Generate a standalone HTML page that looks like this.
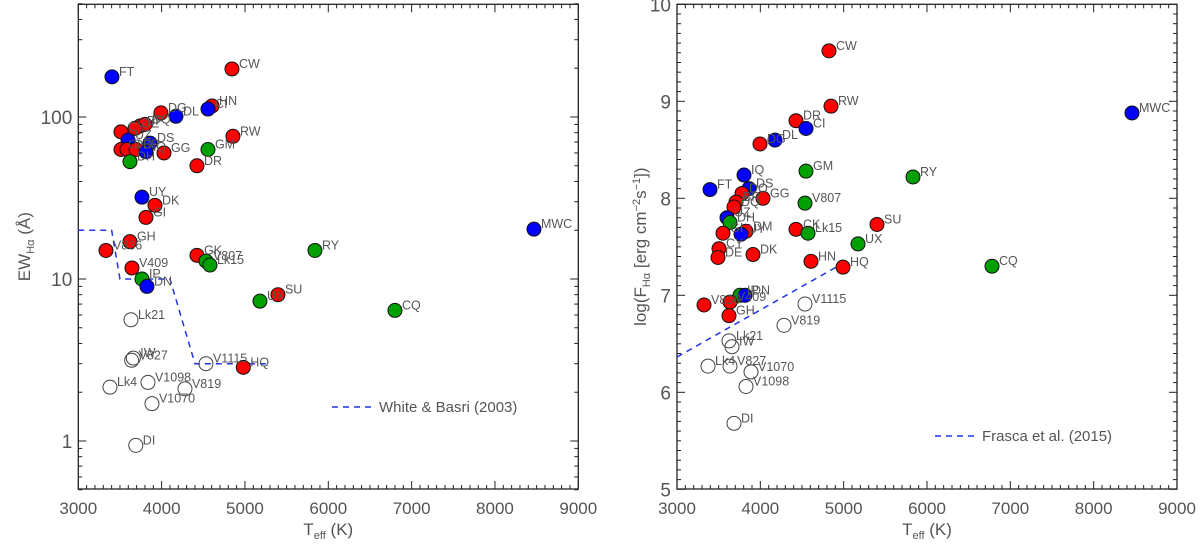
<!DOCTYPE html>
<html><head><meta charset="utf-8"><style>
html,body{margin:0;padding:0;background:#fff;}
svg{display:block;font-family:"Liberation Sans",sans-serif;}
</style></head><body>
<svg id="fig" width="1200" height="548" viewBox="0 0 1200 548"></svg>
<script>
// ---- data: left panel (EW Halpha)
const leftNames=["FT","CW","HN","CI","DG","DL","RW","GM","DR","GG","DS","CY","BP","DQ","DE","UZ","CI","DO","BP","IQ","DH","UY","DK","GI","GH","V836","V409","IP","DN","GK","V807","Lk15","RY","UX","SU","CQ","MWC","HQ","Lk21","IW","V827","V1115","Lk4","V1098","V819","V1070","DI"];
const leftType=["b","r","r","b","r","b","r","g","r","r","b","r","r","r","r","b","r","r","r","b","g","b","r","r","r","r","r","g","b","r","g","g","g","g","r","g","b","r","o","o","o","o","o","o","o","o","o"];
const leftTeff=[3404,4844,4605,4556,3992,4172,4856,4556,4424,4028,3860,3512,3740,3800,3680,3596,3512,3584,3692,3812,3620,3764,3920,3812,3620,3332,3644,3764,3824,4424,4532,4580,5840,5180,5396,6800,8468,4980,3632,3660,3640,4532,3380,3836,4280,3884,3690];
const leftEW=[177,198,117,112,106,101,76,63,50,60,69,81,88,90,85,72,63,63,63,61,53,32,28.5,24,17,15,11.7,10,9,14,12.9,12.2,15,7.3,8,6.4,20.3,2.85,5.6,3.25,3.15,3.0,2.15,2.3,2.1,1.7,0.94];
const wbTeff=[3000,3400,3500,4100,4400,5250];
const wbEW=[20,20,10,10,3,3];
// ---- data: right panel (log F Halpha)
const rightNames=["CW","RW","MWC","DR","CI","DL","DG","GM","RY","IQ","FT","DS","DO","GG","V807","BP","DQ","UZ","DH","GI","DM","UY","CK","Lk15","SU","UX","CY","DE","DK","HN","HQ","CQ","IP","DN","V836","V409","GH","V1115","V819","Lk21","IW","Lk4","V827","V1070","V1098","DI"];
const rightType=["r","r","b","r","b","b","r","g","g","b","b","b","r","r","g","r","r","b","g","r","r","b","r","g","r","g","r","r","r","r","r","g","g","b","r","r","r","o","o","o","o","o","o","o","o","o"];
const rightTeff=[4824,4848,8460,4428,4548,4176,3996,4548,5832,3804,3396,3864,3780,4032,4536,3708,3684,3600,3636,3552,3828,3768,4428,4572,5400,5172,3504,3492,3912,4608,4992,6780,3756,3816,3324,3636,3624,4536,4284,3624,3660,3372,3636,3888,3828,3684];
const rightLogF=[9.52,8.95,8.88,8.80,8.72,8.60,8.56,8.28,8.22,8.24,8.09,8.10,8.05,8.00,7.95,7.96,7.91,7.80,7.75,7.64,7.66,7.63,7.68,7.64,7.73,7.53,7.48,7.39,7.42,7.35,7.29,7.30,7.00,7.00,6.90,6.93,6.79,6.91,6.69,6.53,6.47,6.27,6.27,6.21,6.06,5.68];
const frTeff=[3000,4992];
const frLogF=[6.364,7.33];
const xTicks=[3000,4000,5000,6000,7000,8000,9000];
const leftYTicks=[1,10,100];
const rightYTicks=[5,6,7,8,9,10];

const NS="http://www.w3.org/2000/svg";
const svg=document.getElementById('fig');
const COL={r:"#ff0000",b:"#0000ff",g:"#00a000",o:"none"};
const TXT="#555";
function mk(tag,attrs,parent){const e=document.createElementNS(NS,tag);for(const k in attrs)e.setAttribute(k,attrs[k]);(parent||svg).appendChild(e);return e;}

function panel(P){
  const g=mk('g',{});
  
  
  const X=t=>P.x0+(t-3000)/6000*(P.x1-P.x0);
  const Y=P.Y;
  const fr=mk('rect',{x:P.x0,y:P.y0,width:P.x1-P.x0,height:P.y1-P.y0,fill:'none',stroke:'#222','stroke-width':1.3},g);
  
  
  for(let t=3000;t<=9000;t+=100){
    const maj=t%1000===0, L=maj?8:4, x=X(t);
    mk('line',{x1:x,x2:x,y1:P.y1,y2:P.y1-L,stroke:'#222','stroke-width':1},g);
    mk('line',{x1:x,x2:x,y1:P.y0,y2:P.y0+L,stroke:'#222','stroke-width':1},g);
  }
  xTicks.forEach(t=>{const tx=mk('text',{x:X(t),y:P.y1+25,'text-anchor':'middle','font-size':17,fill:TXT},g);tx.textContent=t;
    
    });
  P.yMinor.forEach(v=>{const y=Y(v);const L=P.yMajorSet.has(v)?8:4;
    mk('line',{x1:P.x0,x2:P.x0+L,y1:y,y2:y,stroke:'#222','stroke-width':1},g);
    mk('line',{x1:P.x1,x2:P.x1-L,y1:y,y2:y,stroke:'#222','stroke-width':1},g);});
  P.yTicks.forEach(v=>{const tx=mk('text',{x:P.x0-6,y:Y(v)+7,'text-anchor':'end','font-size':19,fill:TXT},g);tx.textContent=v;
    
    });
  const pts=P.lineX.map((t,i)=>X(t)+','+Y(P.lineY[i])).join(' ');
  const pl=mk('polyline',{points:pts,fill:'none',stroke:'#2233ee','stroke-width':1.5,'stroke-dasharray':'6,5'},g);
  
  
  const order=[...P.names.keys()].sort((a,b)=>(P.type[a]==='o'?0:1)-(P.type[b]==='o'?0:1));
  order.forEach(i=>{
    const cx=X(P.t[i]), cy=Y(P.v[i]);
    const c=mk('circle',{cx:cx,cy:cy,r:7,fill:COL[P.type[i]],stroke:P.type[i]==='o'?'#444':'#111','stroke-width':1},g);
    
    
  });
  order.forEach(i=>{
    const cx=X(P.t[i]), cy=Y(P.v[i]);
    const tx=mk('text',{x:cx+7,y:cy-1,'font-size':12.5,fill:TXT},g);
    tx.textContent=P.names[i];
    
    
  });
  const ly=P.legY;
  const ll=mk('line',{x1:P.legX,x2:P.legX+42,y1:ly,y2:ly,stroke:'#2233ee','stroke-width':1.5,'stroke-dasharray':'6,5'},g);
  
  
  const lt=mk('text',{x:P.legX+47,y:ly+5,'font-size':15,fill:TXT},g);
  lt.textContent=P.legText;
  
  
  const xt=mk('text',{x:(P.x0+P.x1)/2,y:535,'text-anchor':'middle','font-size':17,fill:TXT},g);
  xt.innerHTML='T<tspan font-size="11" dy="4">eff</tspan><tspan dy="-4"> (K)</tspan>';
  
  
  const yt=mk('text',{x:0,y:0,'text-anchor':'middle','font-size':17,fill:TXT,transform:`translate(${P.ytX},${(P.y0+P.y1)/2}) rotate(-90)`},g);
  yt.innerHTML=P.ytHTML;
  
  
}

const lMinor=[];for(let d=0.1;d<=100;d*=10){for(let k=1;k<=9;k++){const v=+(k*d).toFixed(3);if(v>=0.5&&v<=500)lMinor.push(v);}}
panel({id:'ew-panel',x0:78.3,x1:578.3,y0:4.3,y1:489,
  Y:v=>117-162*Math.log10(v/100),yMinor:lMinor,yMajorSet:new Set([1,10,100]),yTicks:leftYTicks,
  names:leftNames,type:leftType,t:leftTeff,v:leftEW,lineX:wbTeff,lineY:wbEW,
  legX:332,legY:407,legText:'White & Basri (2003)',ytX:30,
  ytHTML:'EW<tspan font-size="11" dy="4">Hα</tspan><tspan dy="-4"> (Å)</tspan>'});
const rMinor=[];for(let k=50;k<=100;k++)rMinor.push(k/10);
panel({id:'flux-panel',x0:677,x1:1177,y0:4.3,y1:489,
  Y:v=>4.3+(10-v)*97,yMinor:rMinor,yMajorSet:new Set([5,6,7,8,9,10]),yTicks:rightYTicks,
  names:rightNames,type:rightType,t:rightTeff,v:rightLogF,lineX:frTeff,lineY:frLogF,
  legX:935,legY:436,legText:'Frasca et al. (2015)',ytX:646,
  ytHTML:'log(F<tspan font-size="11" dy="4">Hα</tspan><tspan dy="-4"> [erg cm</tspan><tspan font-size="11" dy="-6">−2</tspan><tspan dy="6">s</tspan><tspan font-size="11" dy="-6">−1</tspan><tspan dy="6">])</tspan>'});
</script>
</body></html>
